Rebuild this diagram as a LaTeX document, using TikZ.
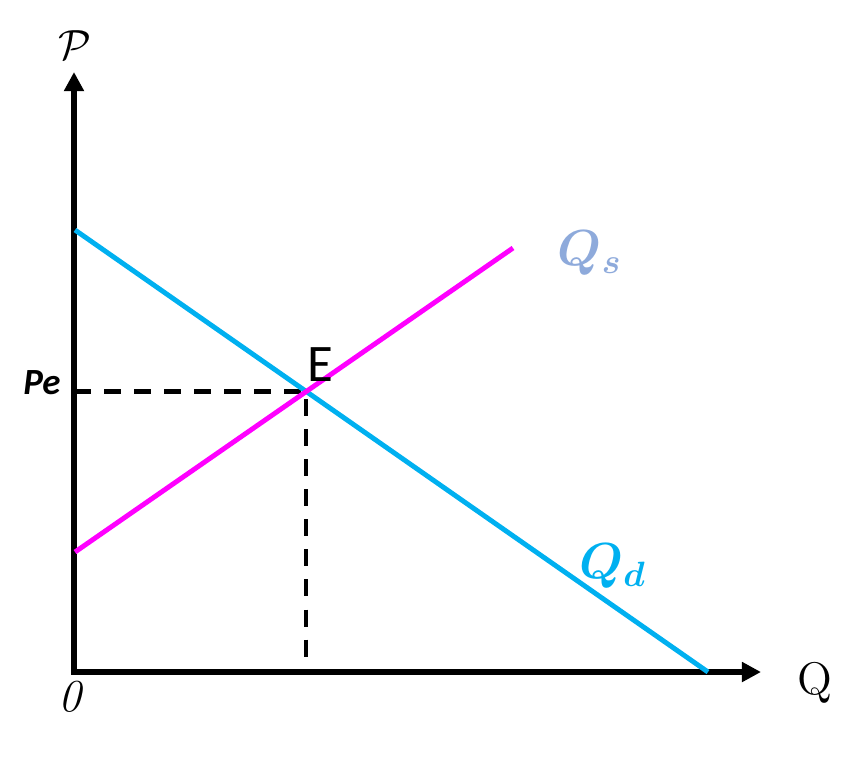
\documentclass[tikz,border=0pt]{standalone}
\usepackage{fontspec}
\usepackage{bm}
\newfontfamily\calibri{Carlito}
\usetikzlibrary{arrows.meta,intersections}
\definecolor{demandblue}{RGB}{0,176,240}
\definecolor{supplypink}{RGB}{255,0,255}
\definecolor{qslabel}{RGB}{142,170,219}

\begin{document}
\begin{tikzpicture}[x=0.01cm,y=-0.01cm,
    axis/.style={line width=1.55pt,line join=miter,
      {Triangle[length=0.19cm,width=0.19cm]}-{Triangle[length=0.19cm,width=0.19cm]}},
    curve/.style={line width=1.4pt},
    guide/.style={line width=1.25pt,dash pattern=on 0.17cm off 0.13cm}]
    \useasboundingbox (0,0) rectangle (857,759);

    % axes
    \coordinate (O) at (74,672);
    \coordinate (ytip) at (74,72);
    \coordinate (xtip) at (761,672);
    \node[font=\fontsize{13}{15}\selectfont] (P) at (75,45) {$\mathcal{P}$};
    \node[font=\fontsize{13}{15}\selectfont] (Q) at (815,683) {Q};
    \node[font=\fontsize{13}{15}\selectfont\itshape] (zero) at (70,697) {0};

    % demand and supply lines
    \coordinate (d1) at (75,230);
    \coordinate (d2) at (708,672);
    \coordinate (s1) at (75,552);
    \coordinate (s2) at (513,248);
    \path[name path=demand] (d1) -- (d2);
    \path[name path=supply] (s1) -- (s2);
    \path[name intersections={of=demand and supply,by=E}];

    % equilibrium guides
    \draw[guide] (E -| O) -- (E) -- ([yshift=0.12cm]E |- O);
    \draw[axis] (ytip) -- (O) -- (xtip);
    \draw[curve,demandblue] (d1) -- (d2);
    \draw[curve,supplypink] (s1) -- (s2);

    % labels
    \node[font=\fontsize{15}{17}\selectfont\calibri] (Elabel) at (320,365) {E};
    \node[font=\fontsize{10.5}{12}\selectfont\calibri\bfseries\itshape] (Pe) at (42,383) {Pe};
    \node[text=qslabel,font=\fontsize{14}{16}\selectfont] (Qs) at (590,253) {$\bm{Q_s}$};
    \node[text=demandblue,font=\fontsize{14}{16}\selectfont] (Qd) at (613,566) {$\bm{Q_d}$};
\end{tikzpicture}
\end{document}
